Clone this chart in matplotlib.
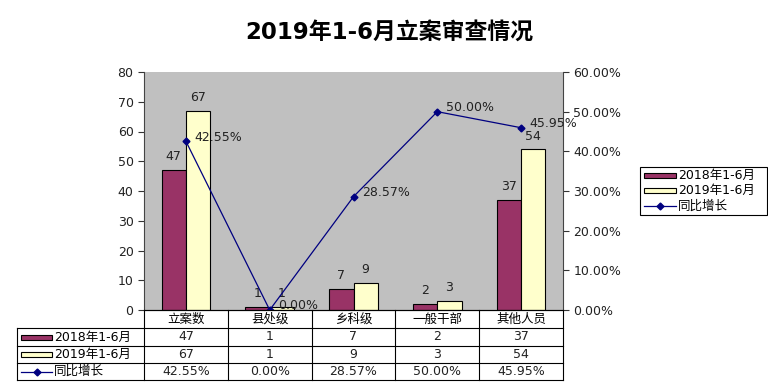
import matplotlib
matplotlib.use('Agg')
import matplotlib.pyplot as plt
from matplotlib.lines import Line2D
from matplotlib.patches import Rectangle
import numpy as np

plt.rcParams['font.family'] = ['DejaVu Sans', 'Noto Sans CJK SC']

# 数据
categories = ['立案数', '县处级', '乡科级', '一般干部', '其他人员']
values_2018 = [47, 1, 7, 2, 37]
values_2019 = [67, 1, 9, 3, 54]
growth = [42.55, 0.00, 28.57, 50.00, 45.95]
series_names = ['2018年1-6月', '2019年1-6月', '同比增长']
title = '2019年1-6月立案审查情况'

c2018 = '#993366'
c2019 = '#FFFFCC'
cline = '#000080'
fs = 9

W, H = 768, 387
fig = plt.figure(figsize=(W / 100, H / 100), dpi=100)

def fx(px):
    return px / W

def fy(py):
    return 1 - py / H

# 绘图区
x0, x1, ytop, ybot = 144, 563, 72, 310
ax = fig.add_axes([fx(x0), fy(ybot), fx(x1) - fx(x0), fy(ytop) - fy(ybot)])
ax.set_facecolor('#C0C0C0')
x = np.arange(len(categories))
bw = 0.29
ax.bar(x - bw / 2, values_2018, bw, color=c2018, edgecolor='black', linewidth=0.8)
ax.bar(x + bw / 2, values_2019, bw, color=c2019, edgecolor='black', linewidth=0.8)
for xi, v in zip(x, values_2018):
    ax.text(xi - bw / 2, v + 2.3, str(v), ha='center', va='bottom', fontsize=fs, color='#222222')
for xi, v in zip(x, values_2019):
    ax.text(xi + bw / 2, v + 2.3, str(v), ha='center', va='bottom', fontsize=fs, color='#222222')
ax.set_xlim(-0.5, len(categories) - 0.5)
ax.set_ylim(0, 80)
ax.set_yticks(range(0, 81, 10))
ax.set_xticks([])
ax.tick_params(axis='y', labelsize=fs, length=4, colors='#333333', labelcolor='#222222')
for s in ['top', 'right']:
    ax.spines[s].set_visible(False)
ax.spines['left'].set_color('#444444')
ax.spines['bottom'].set_color('black')

ax2 = ax.twinx()
ax2.plot(x, growth, color=cline, linewidth=0.9, marker='D', markersize=3.5)
for xi, g in zip(x, growth):
    ax2.annotate(f'{g:.2f}%', (xi + 0.1, g), xytext=(0, 3), textcoords='offset points',
                 ha='left', va='center', fontsize=fs, color='#222222')
ax2.set_ylim(0, 60)
ax2.set_yticks(range(0, 61, 10))
ax2.set_yticklabels([f'{t:.2f}%' for t in range(0, 61, 10)])
ax2.tick_params(axis='y', labelsize=fs, length=4, colors='#333333', labelcolor='#222222')
for s in ['top', 'left', 'bottom']:
    ax2.spines[s].set_visible(False)
ax2.spines['right'].set_color('#444444')

# 标题
fig.text(fx(389), fy(33), title, ha='center', va='center', fontsize=16.5, fontweight='bold')

# 数据表
col_w = (x1 - x0) / len(categories)
tleft = 17
row_y = [310, 328, 346, 363, 380]
lc = 'black'
# 横线
fig.add_artist(Line2D([fx(x0), fx(x1)], [fy(row_y[0])] * 2, color=lc, lw=0.8))
for ry in row_y[1:]:
    fig.add_artist(Line2D([fx(tleft), fx(x1)], [fy(ry)] * 2, color=lc, lw=0.8))
# 竖线
for i in range(len(categories) + 1):
    xx = x0 + i * col_w
    fig.add_artist(Line2D([fx(xx)] * 2, [fy(row_y[0]), fy(row_y[-1])], color=lc, lw=0.8))
fig.add_artist(Line2D([fx(tleft)] * 2, [fy(row_y[1]), fy(row_y[-1])], color=lc, lw=0.8))

# 表头
for i, c in enumerate(categories):
    fig.text(fx(x0 + (i + 0.5) * col_w), fy((row_y[0] + row_y[1]) / 2), c,
             ha='center', va='center', fontsize=fs)
rows = [[str(v) for v in values_2018], [str(v) for v in values_2019], [f'{g:.2f}%' for g in growth]]
for r, vals in enumerate(rows):
    cy = (row_y[r + 1] + row_y[r + 2]) / 2
    for i, v in enumerate(vals):
        fig.text(fx(x0 + (i + 0.5) * col_w), fy(cy), v, ha='center', va='center', fontsize=fs, color='#222222')
    fig.text(fx(54), fy(cy), series_names[r], ha='left', va='center', fontsize=fs)
    if r < 2:
        fig.add_artist(Rectangle((fx(21), fy(cy + 2.5)), fx(31), fy(0) - fy(5),
                                 facecolor=[c2018, c2019][r], edgecolor='black', lw=0.8))
    else:
        fig.add_artist(Line2D([fx(21), fx(52)], [fy(cy)] * 2, color=cline, lw=0.9))
        fig.add_artist(Line2D([fx(36.5)], [fy(cy)], color=cline, marker='D', markersize=3.5))

# 图例
lx, ly, lw_, lh = 640, 167, 127, 48
fig.add_artist(Rectangle((fx(lx), fy(ly + lh)), fx(lw_), fy(0) - fy(lh),
                         facecolor='white', edgecolor='black', lw=0.8))
for r in range(3):
    cy = ly + 8 + r * 15.5
    if r < 2:
        fig.add_artist(Rectangle((fx(lx + 4), fy(cy + 2.5)), fx(32), fy(0) - fy(5),
                                 facecolor=[c2018, c2019][r], edgecolor='black', lw=0.8))
    else:
        fig.add_artist(Line2D([fx(lx + 4), fx(lx + 36)], [fy(cy)] * 2, color=cline, lw=0.9))
        fig.add_artist(Line2D([fx(lx + 20)], [fy(cy)], color=cline, marker='D', markersize=3.5))
    fig.text(fx(lx + 38), fy(cy), series_names[r], ha='left', va='center', fontsize=fs)

fig.savefig('out.png', dpi=100)
